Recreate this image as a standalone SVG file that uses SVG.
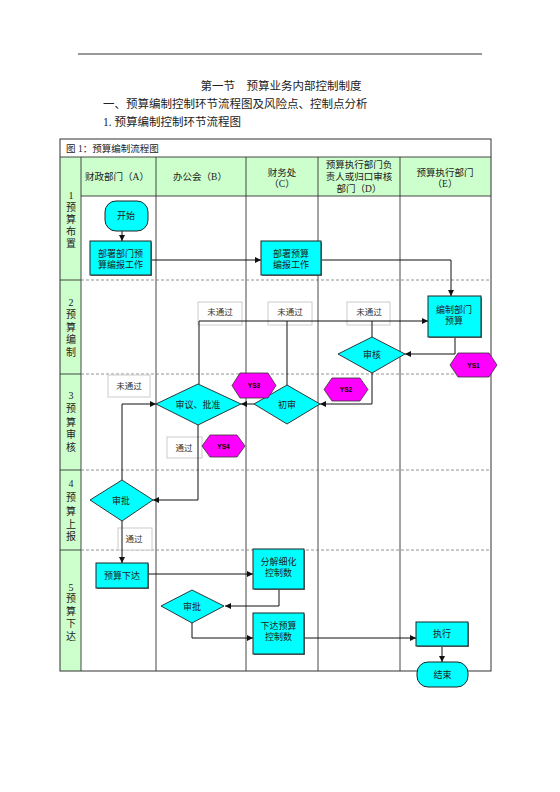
<svg xmlns="http://www.w3.org/2000/svg" width="560" height="792" viewBox="0 0 560 792">
<style>
text{font-family:"Liberation Serif","Noto Sans CJK SC",serif;fill:#222}
.t{font-size:11.5px}
.cap{font-size:9.5px}
.hd{font-size:9.5px;text-anchor:middle}
.lb{font-size:10px;text-anchor:middle}
.nd{font-size:9px;text-anchor:middle}
.ys{font-family:"Liberation Sans",Arial,sans-serif;font-size:6.5px;font-weight:bold;text-anchor:middle;fill:#000}
.note{font-size:8.5px;text-anchor:middle;fill:#333}
.box{fill:#00FFFF;stroke:#222;stroke-width:1}
.shd{fill:#777}
.dia{fill:#00FFFF;stroke:#222;stroke-width:0.9}
.hex{fill:#FF00FF;stroke:#333;stroke-width:0.8}
.nb{fill:#fff;stroke:#ccc;stroke-width:1}
.col{stroke:#333;stroke-width:0.9;fill:none}
.row{stroke:#777;stroke-width:0.8;stroke-dasharray:3,2;fill:none}
.cn{stroke:#111;stroke-width:1;fill:none}
.ca{stroke:#111;stroke-width:1;fill:none;marker-end:url(#ah)}
</style>
<defs>
<marker id="ah" viewBox="0 0 10 10" refX="10" refY="5" markerWidth="6" markerHeight="6" markerUnits="userSpaceOnUse" orient="auto">
<path d="M0,0 L10,5 L0,10 z" fill="#111"/>
</marker>
</defs>
<rect width="560" height="792" fill="#fff"/>
<g id="header">
<line x1="78" y1="54" x2="482" y2="54" stroke="#333" stroke-width="1"/>
<text class="t" x="281" y="90" text-anchor="middle">第一节　预算业务内部控制制度</text>
<text class="t" x="103" y="108">一、预算编制控制环节流程图及风险点、控制点分析</text>
<text class="t" x="103" y="126">1. 预算编制控制环节流程图</text>
</g>
<g id="table">
<rect x="60" y="157" width="21" height="514" fill="#CCFFCC"/>
<rect x="81" y="157" width="410" height="39" fill="#CCFFCC"/>
<rect x="60" y="139" width="431" height="532" fill="none" stroke="#333" stroke-width="1"/>
<line x1="60" y1="157" x2="491" y2="157" class="col"/>
<line x1="81" y1="196" x2="491" y2="196" class="col"/>
<line x1="81" y1="157" x2="81" y2="671" class="col"/>
<line x1="156" y1="157" x2="156" y2="671" class="col"/>
<line x1="246" y1="157" x2="246" y2="671" class="col"/>
<line x1="318" y1="157" x2="318" y2="671" class="col"/>
<line x1="400" y1="157" x2="400" y2="671" class="col"/>
<line x1="60" y1="280" x2="81" y2="280" class="col"/>
<line x1="60" y1="374" x2="81" y2="374" class="col"/>
<line x1="60" y1="470" x2="81" y2="470" class="col"/>
<line x1="60" y1="550" x2="81" y2="550" class="col"/>
<line x1="81" y1="280" x2="491" y2="280" class="row"/>
<line x1="81" y1="374" x2="491" y2="374" class="row"/>
<line x1="81" y1="470" x2="491" y2="470" class="row"/>
<line x1="81" y1="550" x2="491" y2="550" class="row"/>
<text class="cap" x="66" y="152">图 1：预算编制流程图</text>
<text class="hd" x="117" y="180">财政部门（A）</text>
<text class="hd" x="200" y="180">办公会（B）</text>
<text class="hd" x="282" y="176">财务处</text>
<text class="hd" x="282" y="187">（C）</text>
<text class="hd" x="359" y="168">预算执行部门负</text>
<text class="hd" x="359" y="180">责人或归口审核</text>
<text class="hd" x="359" y="192">部门（D）</text>
<text class="hd" x="445" y="176">预算执行部门</text>
<text class="hd" x="445" y="187">（E）</text>
<text class="lb" x="71" y="199">1</text>
<text class="lb" x="71" y="211">预</text>
<text class="lb" x="71" y="223">算</text>
<text class="lb" x="71" y="235">布</text>
<text class="lb" x="71" y="247">置</text>
<text class="lb" x="71" y="306">2</text>
<text class="lb" x="71" y="318">预</text>
<text class="lb" x="71" y="331">算</text>
<text class="lb" x="71" y="343">编</text>
<text class="lb" x="71" y="356">制</text>
<text class="lb" x="71" y="399">3</text>
<text class="lb" x="71" y="412">预</text>
<text class="lb" x="71" y="426">算</text>
<text class="lb" x="71" y="438">审</text>
<text class="lb" x="71" y="451">核</text>
<text class="lb" x="71" y="487">4</text>
<text class="lb" x="71" y="501">预</text>
<text class="lb" x="71" y="515">算</text>
<text class="lb" x="71" y="528">上</text>
<text class="lb" x="71" y="540">报</text>
<text class="lb" x="71" y="591">5</text>
<text class="lb" x="71" y="602">预</text>
<text class="lb" x="71" y="615">算</text>
<text class="lb" x="71" y="627">下</text>
<text class="lb" x="71" y="640">达</text>
</g>
<g id="notes">
<rect class="nb" x="198" y="302" width="44" height="23"/><text class="note" x="220" y="315">未通过</text>
<rect class="nb" x="268" y="302" width="44" height="23"/><text class="note" x="290" y="315">未通过</text>
<rect class="nb" x="347" y="302" width="43" height="23"/><text class="note" x="369" y="315">未通过</text>
<rect class="nb" x="108" y="375" width="42" height="22"/><text class="note" x="129" y="389">未通过</text>
<rect class="nb" x="167" y="437" width="35" height="21"/><text class="note" x="184" y="451">通过</text>
<rect class="nb" x="118" y="528" width="34" height="22"/><text class="note" x="134" y="542">通过</text>
</g>
<g id="connectors">
<path class="ca" d="M122,231 V241"/>
<path class="ca" d="M151,260 H261"/>
<path class="ca" d="M321,260 H451 V296"/>
<path class="ca" d="M455,337 V354 H405"/>
<path class="ca" d="M199,384 V321 H428"/>
<path class="cn" d="M287,385 V321"/>
<path class="cn" d="M372,337 V321"/>
<path class="ca" d="M372,373 V404 H320"/>
<path class="ca" d="M254,404 H241"/>
<path class="ca" d="M198,425 V500 H153"/>
<path class="ca" d="M122,480 V404 H156"/>
<path class="ca" d="M122,521 V563"/>
<path class="ca" d="M148,574 H253"/>
<path class="ca" d="M279,589 V606 H225"/>
<path class="ca" d="M192,623 V638 H253"/>
<path class="ca" d="M304,638 H416"/>
<path class="ca" d="M442,646 V662"/>
</g>
<g id="start">
<rect class="box" x="105" y="201" width="43" height="30" rx="11"/>
<text class="nd" x="126" y="219">开始</text>
</g>
<g id="deployDept">
<rect class="shd" x="91" y="242" width="61" height="34"/>
<rect class="box" x="90" y="241" width="61" height="34"/>
<text class="nd" x="120.5" y="257">部署部门预</text>
<text class="nd" x="120.5" y="268">算编报工作</text>
</g>
<g id="deployBudget">
<rect class="shd" x="262" y="242" width="60" height="34"/>
<rect class="box" x="261" y="241" width="60" height="34"/>
<text class="nd" x="291" y="257">部署预算</text>
<text class="nd" x="291" y="268">编报工作</text>
</g>
<g id="compileBudget">
<rect class="shd" x="429" y="297" width="53" height="41"/>
<rect class="box" x="428" y="296" width="53" height="41"/>
<text class="nd" x="454" y="313">编制部门</text>
<text class="nd" x="454" y="324">预算</text>
</g>
<g id="review">
<polygon class="dia" points="338,354 372,337 405,354 372,373"/>
<text class="nd" x="372" y="358">审核</text>
</g>
<g id="ys1">
<polygon class="hex" points="458,353 489,353 497,365 489,377 458,377 450,365"/>
<text class="ys" x="473.5" y="367.5">YS1</text>
</g>
<g id="firstReview">
<polygon class="dia" points="254,404 287,385 320,404 287,424"/>
<text class="nd" x="287" y="408">初审</text>
</g>
<g id="approve">
<polygon class="dia" points="156,404 198,384 241,404 198,425"/>
<text class="nd" x="198" y="408">审议、批准</text>
</g>
<g id="ys3">
<polygon class="hex" points="240,373 268,373 276,385.5 268,398 240,398 232,385.5"/>
<text class="ys" x="254" y="388">YS3</text>
</g>
<g id="ys2">
<polygon class="hex" points="332,378 360,378 368,389.5 360,401 332,401 324,389.5"/>
<text class="ys" x="346" y="392">YS2</text>
</g>
<g id="ys4">
<polygon class="hex" points="210,435 237,435 245,446 237,457 210,457 202,446"/>
<text class="ys" x="223.5" y="448.5">YS4</text>
</g>
<g id="approveA">
<polygon class="dia" points="90,500 122,480 153,500 122,521"/>
<text class="nd" x="121" y="504">审批</text>
</g>
<g id="issue">
<rect class="shd" x="97" y="564" width="52" height="25"/>
<rect class="box" x="96" y="563" width="52" height="25"/>
<text class="nd" x="122" y="579">预算下达</text>
</g>
<g id="decompose">
<rect class="shd" x="254" y="550" width="51" height="40"/>
<rect class="box" x="253" y="549" width="51" height="40"/>
<text class="nd" x="278.5" y="565">分解细化</text>
<text class="nd" x="278.5" y="576">控制数</text>
</g>
<g id="approveB">
<polygon class="dia" points="161,606 192,590 224,606 192,623"/>
<text class="nd" x="192" y="610">审批</text>
</g>
<g id="issueControl">
<rect class="shd" x="254" y="614" width="51" height="41"/>
<rect class="box" x="253" y="613" width="51" height="41"/>
<text class="nd" x="278.5" y="629">下达预算</text>
<text class="nd" x="278.5" y="640">控制数</text>
</g>
<g id="execute">
<rect class="shd" x="417" y="623" width="52" height="24"/>
<rect class="box" x="416" y="622" width="52" height="24"/>
<text class="nd" x="442" y="637">执行</text>
</g>
<g id="end">
<rect class="box" x="417" y="662" width="51" height="25" rx="11"/>
<text class="nd" x="442.5" y="678">结束</text>
</g>
</svg>
